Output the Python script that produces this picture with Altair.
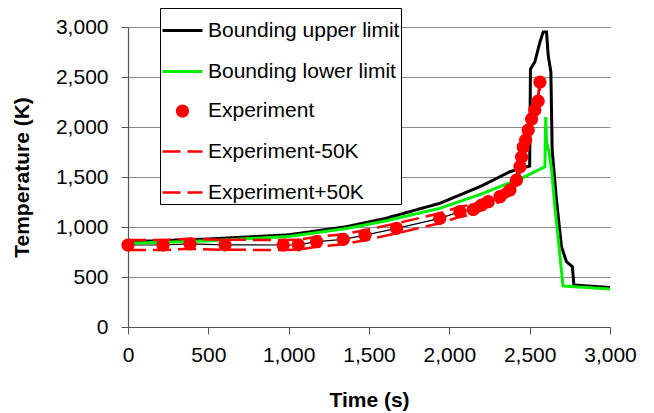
import altair as alt
import pandas as pd

# ---- data ----
upper_t = [0, 500, 1000, 1360, 1600, 1941, 2200, 2377, 2500, 2505, 2532, 2564, 2584, 2605, 2615, 2632, 2640, 2667, 2698, 2729, 2766, 2775, 3000]
upper_T = [853, 880, 922, 1003, 1085, 1237, 1410, 1553, 1610, 2580, 2650, 2850, 2950, 2950, 2720, 2550, 1770, 1270, 803, 653, 603, 420, 395]

lower_t = [0, 500, 1000, 1360, 1600, 1941, 2200, 2470, 2595, 2600, 2605, 2620, 2637, 2657, 2680, 2698, 2708, 3000]
lower_T = [837, 862, 905, 985, 1060, 1187, 1330, 1503, 1603, 2100, 1850, 1750, 1570, 1200, 850, 560, 410, 380]

exp_t = [0, 218, 386, 604, 966, 1060, 1174, 1340, 1475, 1672, 1941, 2066, 2149, 2201, 2242, 2315, 2377, 2418, 2440, 2450, 2460, 2475, 2491, 2512, 2532, 2553, 2564]
exp_T = [820, 820, 832, 822, 820, 822, 853, 877, 918, 987, 1087, 1153, 1175, 1220, 1253, 1303, 1370, 1470, 1603, 1700, 1800, 1870, 1970, 2080, 2170, 2260, 2450]

names = ["Bounding upper limit", "Bounding lower limit", "Experiment", "Experiment-50K", "Experiment+50K"]
colors = ["#000000", "#00ee00", "#ff0000", "#ff0000", "#ff0000"]
dashes = [[1, 0], [1, 0], [1, 0], [18, 7], [18, 7]]
widths = [3, 3, 0, 2.5, 2.5]
# small dot inside the same 40px symbol box as the legend lines
DOT = ("M-0.33,0A0.33,0.33,0,1,1,0.33,0A0.33,0.33,0,1,1,-0.33,0Z"
       "M-1,0L-1,0M1,0L1,0")
shapes = ["stroke", "stroke", DOT, "stroke", "stroke"]

x_ticks = [0, 500, 1000, 1500, 2000, 2500, 3000]
y_ticks = [0, 500, 1000, 1500, 2000, 2500, 3000]

rows = []
for s, ts, Ts in [(names[0], upper_t, upper_T), (names[1], lower_t, lower_T)]:
    for i, (t, T) in enumerate(zip(ts, Ts)):
        rows.append({"series": s, "t": t, "T": T, "i": i})
for i, (t, T) in enumerate(zip(exp_t, exp_T)):
    rows.append({"series": names[3], "t": t, "T": T - 50, "i": i})
    rows.append({"series": names[4], "t": t, "T": T + 50, "i": i})
lines = pd.DataFrame(rows)
exp = pd.DataFrame({"series": names[2], "t": exp_t, "T": exp_T})

FONT = "Liberation Sans"

x_enc = alt.X("t:Q", scale=alt.Scale(domain=[0, 3000], nice=False),
              axis=alt.Axis(values=x_ticks, format=",.0f", title="Time (s)", grid=False, labelFlush=False))
y_enc = alt.Y("T:Q", scale=alt.Scale(domain=[0, 3000], nice=False),
              axis=alt.Axis(values=y_ticks, format=",.0f", title="Temperature (K)", grid=True))

legend = alt.Legend(
    title=None, orient="none", legendX=32, legendY=-19,
    strokeColor="#000000", fillColor="#ffffff", padding=1,
    symbolFillColor="#ff0000", symbolSize=1600,
    rowPadding=9, labelFont=FONT, labelFontSize=21, labelColor="#000000",
    labelOffset=4, labelLimit=400,
)

color = alt.Color("series:N", scale=alt.Scale(domain=names, range=colors), legend=legend)
dash = alt.StrokeDash("series:N", scale=alt.Scale(type="ordinal", domain=names, range=dashes), legend=legend)
swidth = alt.StrokeWidth("series:N", scale=alt.Scale(type="ordinal", domain=names, range=widths), legend=legend)
shape = alt.Shape("series:N", scale=alt.Scale(type="ordinal", domain=names, range=shapes), legend=legend)

line_layer = alt.Chart(lines).mark_line().encode(
    x=x_enc, y=y_enc, color=color, strokeDash=dash, strokeWidth=swidth,
    detail="series:N", order="i:Q",
)

thin_layer = alt.Chart(exp).mark_line(color="#000000", strokeWidth=1.2).encode(x="t:Q", y="T:Q")

point_layer = alt.Chart(exp).mark_point(filled=True, opacity=1, size=1600, strokeWidth=0).encode(
    x="t:Q", y="T:Q", color=color, shape=shape,
)

chart = alt.layer(thin_layer, line_layer, point_layer).properties(
    width=482, height=300,
    padding={"left": 120, "top": 19, "right": 36, "bottom": 86},
    autosize=alt.AutoSizeParams(type="none"),
).configure_view(stroke=None).configure_axis(
    labelFont=FONT, labelFontSize=21, labelColor="#000000",
    titleFont=FONT, titleFontSize=21, titleFontWeight="bold", titleColor="#000000",
    domainColor="#555555", domainWidth=1.2, tickColor="#555555", tickSize=7,
    gridColor="#8a8a8a", gridWidth=1.2,
).configure_axisY(labelPadding=13, titlePadding=23).configure_axisX(labelPadding=10, titlePadding=24)

chart.save("out.html", embed_options={"renderer": "svg", "actions": False})
